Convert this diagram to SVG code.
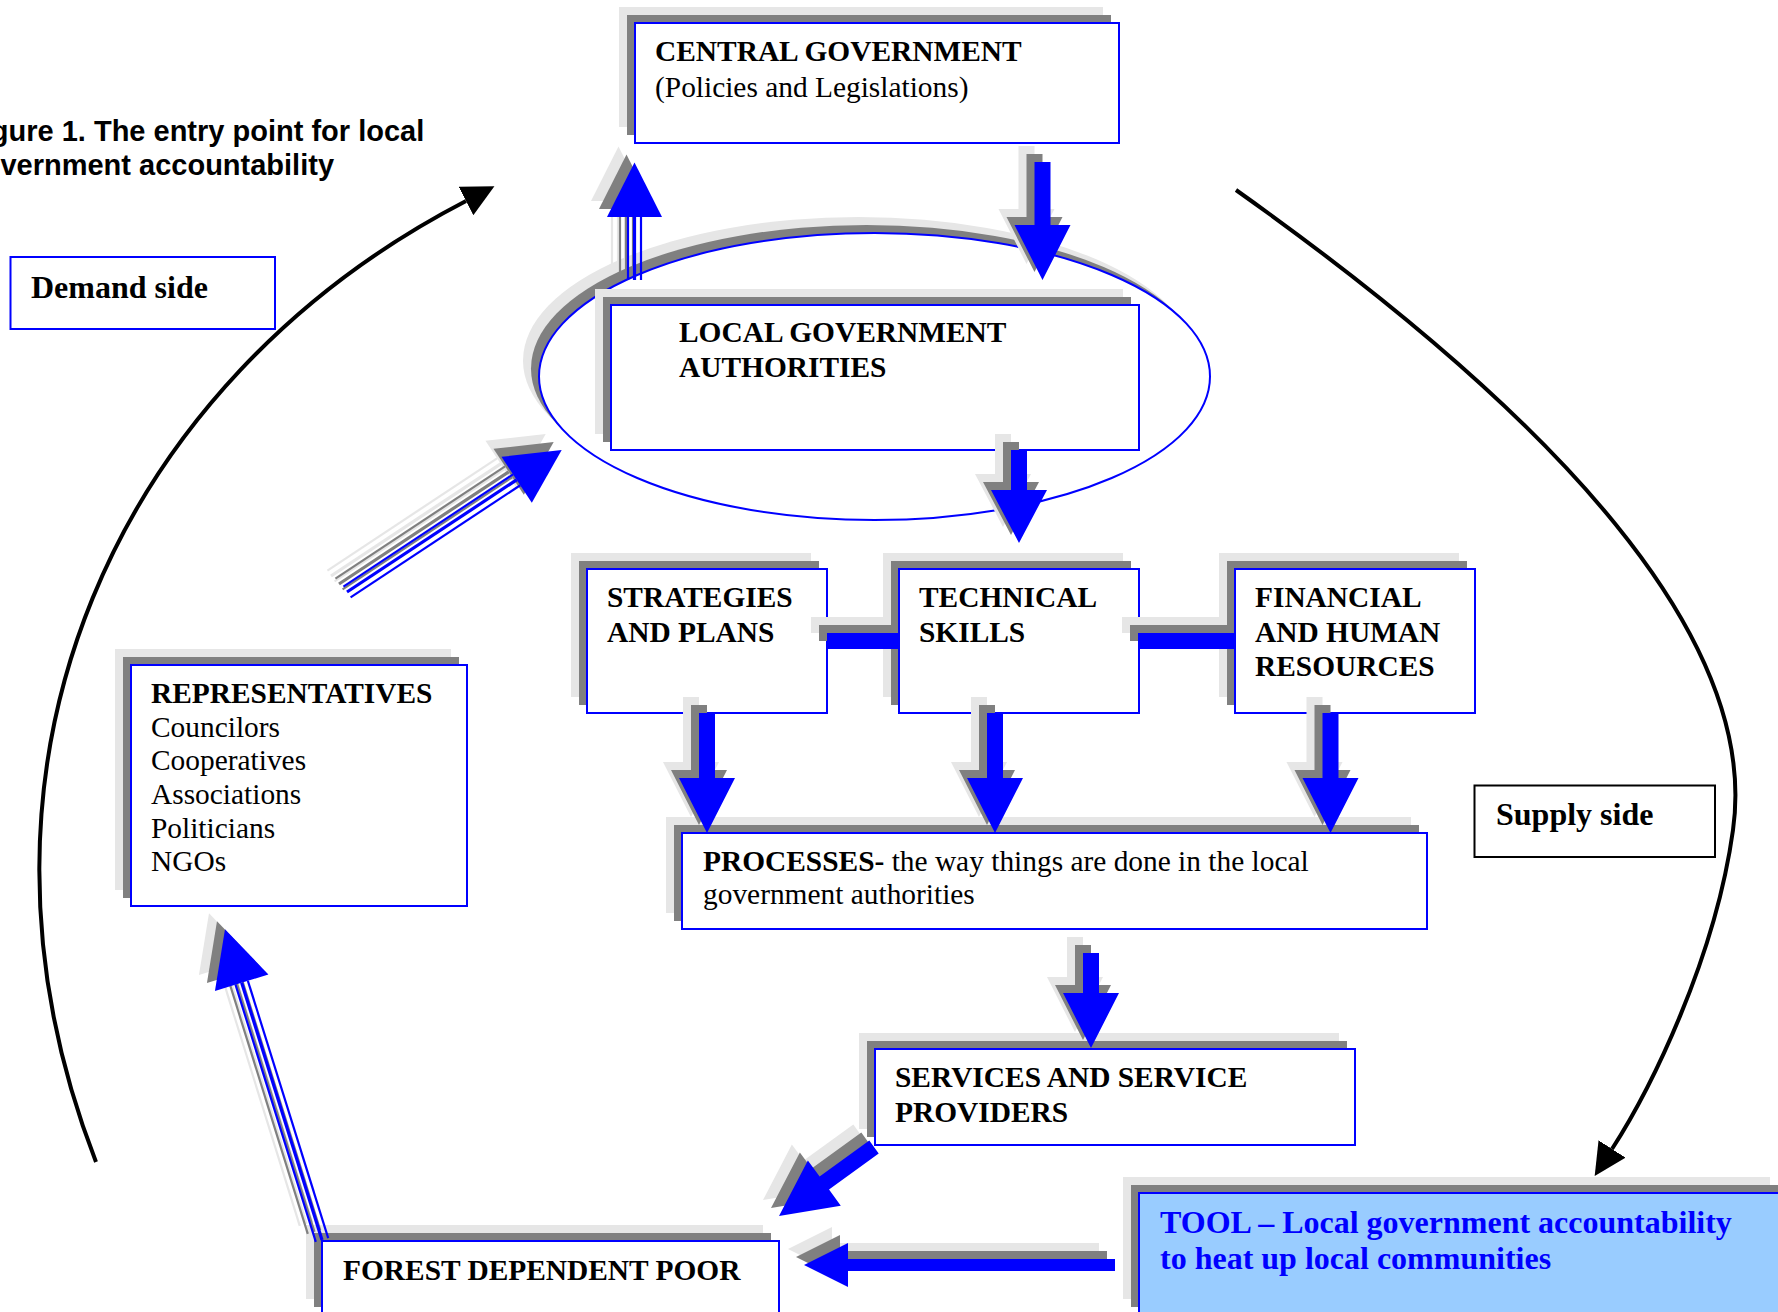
<svg xmlns="http://www.w3.org/2000/svg" xmlns:xlink="http://www.w3.org/1999/xlink" width="1778" height="1312" viewBox="0 0 1778 1312">
<style>
.bx{fill:#ffffff;stroke:#0000ff;stroke-width:2}
.s1{fill:#e6e6e6}
.s2{fill:#808080}
.bl{fill:#0000ff}
.t1{fill:#e6e6e6;stroke:#e6e6e6}
.t2{fill:#808080;stroke:#808080}
.t3{fill:#0000ff;stroke:#0000ff}
.tx{font-family:"Liberation Serif","Times New Roman",serif;font-size:29.4px;fill:#000000}
.b{font-weight:bold}
.big{font-size:32px}
.title{font-family:"Liberation Sans",Arial,sans-serif;font-size:29px;font-weight:bold;fill:#000000}
.curve{fill:none;stroke:#000000;stroke-width:4}
</style>
<defs>
<marker id="blackhead" markerUnits="userSpaceOnUse" markerWidth="32" markerHeight="32" refX="0" refY="15" orient="auto" viewBox="0 0 30 30">
<path d="M0,0 L30,15 L0,30 z" fill="#000000"/>
</marker>
<polygon id="a-cg-lga" points="1034.5,162 1050.5,162 1050.5,225 1070.5,225 1042.5,280 1014.5,225 1034.5,225"/>
<polygon id="a-lga-tech" points="1011,450 1027,450 1027,490 1047,490 1019,543 991,490 1011,490"/>
<polygon id="a-strat-proc" points="699,713 715,713 715,778 735,778 707,833 679,778 699,778"/>
<polygon id="a-tech-proc" points="987,713 1003,713 1003,778 1023,778 995,833 967,778 987,778"/>
<polygon id="a-fin-proc" points="1322.5,713 1338.5,713 1338.5,778 1358.5,778 1330.5,833 1302.5,778 1322.5,778"/>
<polygon id="a-proc-serv" points="1083,953 1099,953 1099,993 1119,993 1091,1048 1063,993 1083,993"/>
<polygon id="a-serv-fdp" transform="translate(874,1147) rotate(144)" points="0,-8 61.4,-8 61.4,-28 117.4,0 61.4,28 61.4,8 0,8"/>
<polygon id="a-tool-fdp" points="1115,1259 848,1259 848,1243 804,1265 848,1287 848,1271 1115,1271"/>
<rect id="bar1" x="827" y="633" width="72" height="16"/>
<rect id="bar2" x="1138" y="633" width="97" height="16"/>
<g id="tr-lga-cg" transform="translate(634.5,280) rotate(-90)">
<line x1="0" y1="-6.5" x2="63" y2="-6.5" stroke-width="2.2"/>
<line x1="0" y1="0" x2="63" y2="0" stroke-width="3.2"/>
<line x1="0" y1="6.5" x2="63" y2="6.5" stroke-width="2.2"/>
<polygon points="63,-27.5 117.5,0 63,27.5" stroke="none"/>
</g>
<g id="tr-poor-lga" transform="translate(347,592) rotate(-33.48)">
<line x1="0" y1="-6.5" x2="203.4" y2="-6.5" stroke-width="2.2"/>
<line x1="0" y1="0" x2="203.4" y2="0" stroke-width="3.2"/>
<line x1="0" y1="6.5" x2="203.4" y2="6.5" stroke-width="2.2"/>
<polygon points="203.4,-27.5 257.4,0 203.4,27.5" stroke="none"/>
</g>
<g id="tr-fdp-rep" transform="translate(322,1240) rotate(-107.34)">
<line x1="0" y1="-6.5" x2="269.5" y2="-6.5" stroke-width="2.2"/>
<line x1="0" y1="0" x2="269.5" y2="0" stroke-width="3.2"/>
<line x1="0" y1="6.5" x2="269.5" y2="6.5" stroke-width="2.2"/>
<polygon points="269.5,-28 325.5,0 269.5,28" stroke="none"/>
</g>
</defs>

<g id="caption">
<text class="title" x="-35" y="141">Figure 1. The entry point for local</text>
<text class="title" x="-35" y="175">government accountability</text>
</g>

<g id="demand-side">
<rect x="10.5" y="257" width="264.5" height="72" fill="#ffffff" stroke="#0000ff" stroke-width="2"/>
<text class="tx b big" x="31" y="298">Demand side</text>
</g>

<g id="supply-side">
<rect x="1474.5" y="785.5" width="240.5" height="71.5" fill="#ffffff" stroke="#000000" stroke-width="2"/>
<text class="tx b big" x="1496" y="825">Supply side</text>
</g>

<g id="lga-ellipse">
<ellipse cx="858.5" cy="360.5" rx="335.5" ry="143.5" class="s1"/>
<ellipse cx="866.5" cy="368.5" rx="335.5" ry="143.5" class="s2"/>
<ellipse cx="874.5" cy="376.5" rx="335.5" ry="143.5" fill="#ffffff" stroke="#0000ff" stroke-width="2"/>
</g>

<g id="central-government">
<rect x="619" y="7" width="484" height="120" class="s1"/>
<rect x="627" y="15" width="484" height="120" class="s2"/>
<rect x="635" y="23" width="484" height="120" class="bx"/>
<text class="tx b" x="655" y="61">CENTRAL GOVERNMENT</text>
<text class="tx" x="655" y="97">(Policies and Legislations)</text>
</g>

<g id="local-government">
<rect x="595" y="289" width="528" height="145" class="s1"/>
<rect x="603" y="297" width="528" height="145" class="s2"/>
<rect x="611" y="305" width="528" height="145" class="bx"/>
<text class="tx b" x="679" y="342">LOCAL GOVERNMENT</text>
<text class="tx b" x="679" y="377">AUTHORITIES</text>
</g>

<g id="strategies">
<rect x="571" y="553" width="240" height="144" class="s1"/>
<rect x="579" y="561" width="240" height="144" class="s2"/>
<rect x="587" y="569" width="240" height="144" class="bx"/>
<text class="tx b" x="607" y="607">STRATEGIES</text>
<text class="tx b" x="607" y="642">AND PLANS</text>
</g>

<g id="technical">
<rect x="883" y="553" width="240" height="144" class="s1"/>
<rect x="891" y="561" width="240" height="144" class="s2"/>
<rect x="899" y="569" width="240" height="144" class="bx"/>
<text class="tx b" x="919" y="607">TECHNICAL</text>
<text class="tx b" x="919" y="642">SKILLS</text>
</g>

<g id="financial">
<rect x="1219" y="553" width="240" height="144" class="s1"/>
<rect x="1227" y="561" width="240" height="144" class="s2"/>
<rect x="1235" y="569" width="240" height="144" class="bx"/>
<text class="tx b" x="1255" y="607">FINANCIAL</text>
<text class="tx b" x="1255" y="642">AND HUMAN</text>
<text class="tx b" x="1255" y="676">RESOURCES</text>
</g>

<g id="processes">
<rect x="666" y="817" width="745" height="96" class="s1"/>
<rect x="674" y="825" width="745" height="96" class="s2"/>
<rect x="682" y="833" width="745" height="96" class="bx"/>
<text class="tx" x="703" y="871"><tspan class="b">PROCESSES-</tspan> the way things are done in the local</text>
<text class="tx" x="703" y="904">government authorities</text>
</g>

<g id="services">
<rect x="859" y="1033" width="480" height="96" class="s1"/>
<rect x="867" y="1041" width="480" height="96" class="s2"/>
<rect x="875" y="1049" width="480" height="96" class="bx"/>
<text class="tx b" x="895" y="1087">SERVICES AND SERVICE</text>
<text class="tx b" x="895" y="1122">PROVIDERS</text>
</g>

<g id="representatives">
<rect x="115" y="649" width="336" height="241" class="s1"/>
<rect x="123" y="657" width="336" height="241" class="s2"/>
<rect x="131" y="665" width="336" height="241" class="bx"/>
<text class="tx b" x="151" y="703">REPRESENTATIVES</text>
<text class="tx" x="151" y="737">Councilors</text>
<text class="tx" x="151" y="770">Cooperatives</text>
<text class="tx" x="151" y="804">Associations</text>
<text class="tx" x="151" y="838">Politicians</text>
<text class="tx" x="151" y="871">NGOs</text>
</g>

<g id="forest-dependent-poor">
<rect x="306" y="1225" width="457" height="74" class="s1"/>
<rect x="314" y="1233" width="457" height="74" class="s2"/>
<rect x="322" y="1241" width="457" height="74" class="bx"/>
<text class="tx b" x="343" y="1280">FOREST DEPENDENT POOR</text>
</g>

<g id="tool">
<rect x="1123" y="1177" width="647" height="122" class="s1"/>
<rect x="1131" y="1185" width="647" height="122" class="s2"/>
<rect x="1139" y="1193" width="647" height="122" fill="#99ccff" stroke="#0000ff" stroke-width="2"/>
<text class="tx b big" x="1160" y="1233" style="fill:#0000ff">TOOL – Local government accountability</text>
<text class="tx b big" x="1160" y="1269" style="fill:#0000ff">to heat up local communities</text>
</g>

<g id="connectors">
<path class="curve" d="M96,1162 C-60,760 120,380 466,201" marker-end="url(#blackhead)"/>
<path class="curve" d="M1236,190 C1560,420 1760,640 1733,830 C1715,960 1650,1090 1612,1149" marker-end="url(#blackhead)"/>

<use xlink:href="#a-cg-lga" class="s1" transform="translate(-16,-16)"/>
<use xlink:href="#a-cg-lga" class="s2" transform="translate(-8,-8)"/>
<use xlink:href="#a-cg-lga" class="bl"/>

<use xlink:href="#a-lga-tech" class="s1" transform="translate(-16,-16)"/>
<use xlink:href="#a-lga-tech" class="s2" transform="translate(-8,-8)"/>
<use xlink:href="#a-lga-tech" class="bl"/>

<use xlink:href="#bar1" class="s1" transform="translate(-16,-16)"/>
<use xlink:href="#bar1" class="s2" transform="translate(-8,-8)"/>
<use xlink:href="#bar1" class="bl"/>

<use xlink:href="#bar2" class="s1" transform="translate(-16,-16)"/>
<use xlink:href="#bar2" class="s2" transform="translate(-8,-8)"/>
<use xlink:href="#bar2" class="bl"/>

<use xlink:href="#a-strat-proc" class="s1" transform="translate(-16,-16)"/>
<use xlink:href="#a-strat-proc" class="s2" transform="translate(-8,-8)"/>
<use xlink:href="#a-strat-proc" class="bl"/>

<use xlink:href="#a-tech-proc" class="s1" transform="translate(-16,-16)"/>
<use xlink:href="#a-tech-proc" class="s2" transform="translate(-8,-8)"/>
<use xlink:href="#a-tech-proc" class="bl"/>

<use xlink:href="#a-fin-proc" class="s1" transform="translate(-16,-16)"/>
<use xlink:href="#a-fin-proc" class="s2" transform="translate(-8,-8)"/>
<use xlink:href="#a-fin-proc" class="bl"/>

<use xlink:href="#a-proc-serv" class="s1" transform="translate(-16,-16)"/>
<use xlink:href="#a-proc-serv" class="s2" transform="translate(-8,-8)"/>
<use xlink:href="#a-proc-serv" class="bl"/>

<use xlink:href="#a-serv-fdp" class="s1" transform="translate(-16,-16)"/>
<use xlink:href="#a-serv-fdp" class="s2" transform="translate(-8,-8)"/>
<use xlink:href="#a-serv-fdp" class="bl"/>

<use xlink:href="#a-tool-fdp" class="s1" transform="translate(-16,-16)"/>
<use xlink:href="#a-tool-fdp" class="s2" transform="translate(-8,-8)"/>
<use xlink:href="#a-tool-fdp" class="bl"/>

<use xlink:href="#tr-lga-cg" class="t1" transform="translate(-16,-16)"/>
<use xlink:href="#tr-lga-cg" class="t2" transform="translate(-8,-8)"/>
<use xlink:href="#tr-lga-cg" class="t3"/>

<use xlink:href="#tr-poor-lga" class="t1" transform="translate(-16,-16)"/>
<use xlink:href="#tr-poor-lga" class="t2" transform="translate(-8,-8)"/>
<use xlink:href="#tr-poor-lga" class="t3"/>

<use xlink:href="#tr-fdp-rep" class="t1" transform="translate(-16,-16)"/>
<use xlink:href="#tr-fdp-rep" class="t2" transform="translate(-8,-8)"/>
<use xlink:href="#tr-fdp-rep" class="t3"/>
</g>
</svg>
